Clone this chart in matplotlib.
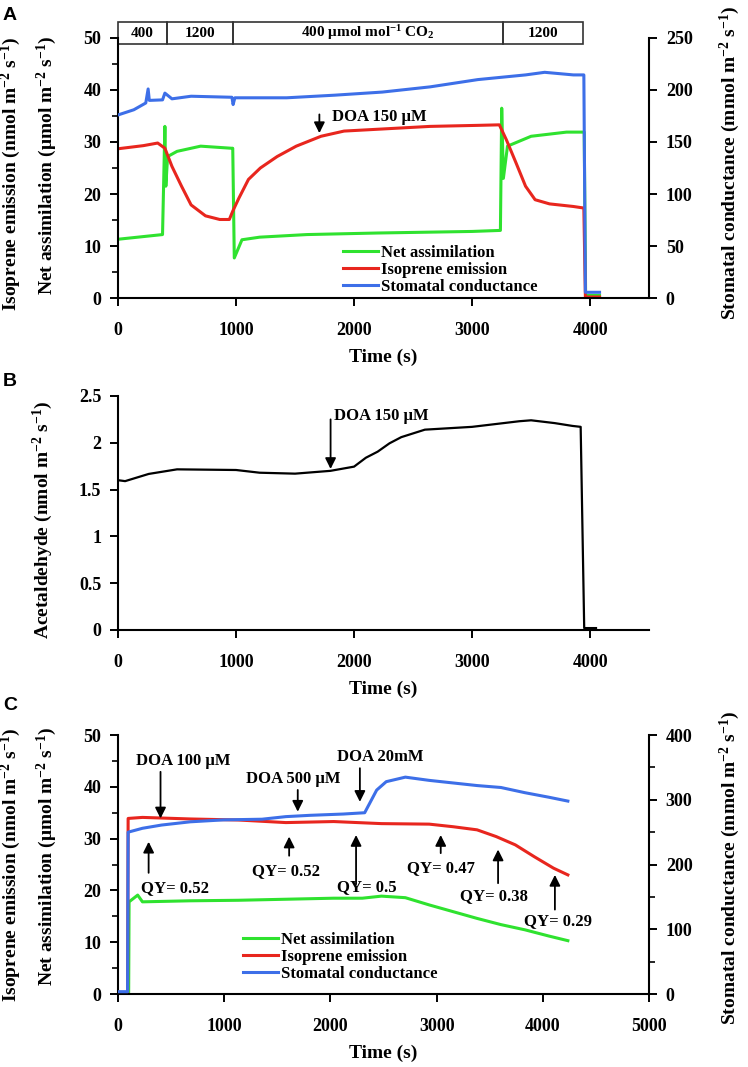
import matplotlib.pyplot as plt
from matplotlib.patches import Rectangle
from matplotlib.ticker import MultipleLocator

plt.rcParams['font.family'] = ['Liberation Serif', 'DejaVu Serif']
plt.rcParams['font.weight'] = 'bold'
plt.rcParams['mathtext.fontset'] = 'custom'
plt.rcParams['mathtext.rm'] = 'Liberation Serif:bold'
plt.rcParams['mathtext.it'] = 'Liberation Serif:bold:italic'
plt.rcParams['mathtext.bf'] = 'Liberation Serif:bold'

GREEN = '#2fe22f'
RED = '#e8261e'
BLUE = '#3d6fe8'

# ---- panel A: CO2 steps ----
a_net_t = [0, 377, 397, 405, 420, 500, 700, 960, 972, 985, 1050, 1200, 1600, 2200, 3000, 3240,
           3251, 3265, 3300, 3500, 3800, 3950, 3962, 4080]
a_net = [11.3, 12.2, 33.0, 21.5, 27.2, 28.2, 29.2, 28.8, 28.8, 7.7, 11.2, 11.7, 12.2, 12.5, 12.8, 13.0,
         36.5, 23.0, 29.2, 31.1, 31.9, 31.9, 0.5, 0.5]
a_iso_t = [0, 215, 336, 397, 457, 538, 619, 741, 862, 943, 972, 1024, 1105, 1206, 1348, 1510, 1720,
           1915, 2239, 2644, 3049, 3231, 3291, 3372, 3453, 3534, 3656, 3858, 3947, 3960, 4080]
a_iso = [28.7, 29.3, 29.8, 28.8, 25.3, 21.5, 17.9, 15.8, 15.1, 15.1, 16.7, 19.2, 22.8, 25.0, 27.2, 29.2, 31.1,
         32.1, 32.5, 33.0, 33.2, 33.3, 30.4, 26.0, 21.5, 18.9, 18.1, 17.6, 17.3, 0.2, 0.2]
a_gs_t = [0, 134, 235, 255, 265, 377, 397, 457, 619, 965, 975, 990, 1429, 1834, 2239, 2644, 3049,
          3453, 3615, 3858, 3947, 3960, 4080]
a_gs = [176, 181, 187.5, 201, 190, 190.5, 197, 191.5, 194, 193, 186, 192.5, 192.5, 195, 198, 203, 210,
        214.5, 217, 214.5, 214.5, 5.5, 5.5]
co2_edges = [0, 414, 972, 3263, 3944]
co2_labels = ['400', '1200', '400 μmol mol$^{-1}$ CO$_2$', '1200']

# ---- panel B: acetaldehyde ----
b_t = [0, 60, 260, 500, 1000, 1200, 1500, 1800, 2000, 2100, 2200, 2300, 2400, 2500, 2600, 2800,
       3000, 3200, 3400, 3500, 3700, 3850, 3920, 3950, 4050]
b_acet = [1.60, 1.59, 1.667, 1.716, 1.709, 1.68, 1.67, 1.70, 1.745, 1.84, 1.905, 1.994, 2.06, 2.10,
          2.14, 2.155, 2.17, 2.20, 2.23, 2.24, 2.21, 2.18, 2.17, 0.02, 0.02]
b_ticks = [0, 0.5, 1, 1.5, 2, 2.5]
b_ticklabels = ['0', '0.5', '1', '1.5', '2', '2.5']

# ---- panel C: DOA doses ----
c_gs_t = [0, 90, 95, 230, 410, 680, 995, 1355, 1580, 1805, 2120, 2322, 2435, 2525, 2705, 2930,
          3155, 3380, 3605, 3830, 4055, 4235]
c_gs = [3.6, 3.6, 250, 256, 261, 266, 269, 270, 274, 276, 278, 280, 315, 328, 335, 330,
        326, 322, 319, 311, 304, 298]
c_iso_t = [0, 90, 95, 230, 680, 1130, 1580, 2030, 2480, 2930, 3155, 3380, 3560, 3740, 3920, 4100, 4235]
c_iso = [0.3, 0.3, 33.9, 34.1, 33.8, 33.6, 33.1, 33.3, 32.9, 32.8, 32.3, 31.7, 30.4, 28.8, 26.5, 24.3, 23.0]
c_net_t = [0, 100, 104, 185, 230, 680, 1130, 1580, 2030, 2300, 2480, 2705, 2930, 3155, 3380, 3605,
           3830, 4055, 4235]
c_net = [0.3, 0.3, 17.8, 19.1, 17.8, 18.0, 18.1, 18.3, 18.5, 18.5, 18.9, 18.6, 17.2, 15.9, 14.6, 13.4,
         12.4, 11.2, 10.3]

c_doa_labels = ['DOA 100 μM', 'DOA 500 μM', 'DOA 20mM']
c_doa_t = [400, 1692, 2277]
c_doa_from = [42.9, 39.4, 43.6]
c_doa_to = [33.9, 35.2, 37.1]
c_doa_text_t = [612, 1647, 2466]
c_doa_text_y = [45.0, 41.6, 45.7]

c_qy_labels = ['QY= 0.52', 'QY= 0.52', 'QY= 0.5', 'QY= 0.47', 'QY= 0.38', 'QY= 0.29']
c_qy_t = [288, 1611, 2241, 3038, 3578, 4113]
c_qy_from = [23.4, 26.7, 21.2, 27.2, 21.4, 16.3]
c_qy_to = [29.4, 30.4, 30.7, 30.7, 27.9, 23.0]
c_qy_text_t = [535, 1580, 2345, 3042, 3537, 4145]
c_qy_text_y = [20.5, 23.7, 20.6, 24.3, 19.0, 14.1]

UNITS = ' (nmol m$^{-2}$ s$^{-1}$)'
TICK_FS = 13
LABEL_FS = 14


def style(ax, left=True):
    for s in ['top', 'right']:
        ax.spines[s].set_visible(False)
    ax.spines['left'].set_linewidth(1.5)
    ax.spines['bottom'].set_linewidth(1.5)
    ax.tick_params(axis='x', direction='out', length=6, width=1.4, pad=11, labelsize=TICK_FS, top=False)
    ax.tick_params(axis='y', which='major', direction='out', length=6, width=1.4, pad=6,
                   labelsize=TICK_FS, right=False)
    ax.tick_params(axis='y', which='minor', direction='out', length=4, width=1.2, right=False)


def style_right(ax2):
    for s in ['top', 'left', 'bottom']:
        ax2.spines[s].set_visible(False)
    ax2.spines['right'].set_linewidth(1.5)
    ax2.tick_params(axis='y', which='major', direction='out', length=6, width=1.4, pad=6, labelsize=TICK_FS)
    ax2.tick_params(axis='y', which='minor', direction='out', length=4, width=1.2)


def arrow(ax, t, y0, y1):
    ax.annotate('', xy=(t, y1), xytext=(t, y0),
                arrowprops=dict(arrowstyle='-|>', color='black', lw=1.3, mutation_scale=16,
                                shrinkA=0, shrinkB=0))


fig = plt.figure(figsize=(7.48, 10.67), dpi=100)
L, W = 0.1578, 0.710

# ---------------- A ----------------
ax = fig.add_axes([L, 0.7207, W, 0.2437])
ax2 = ax.twinx()
ax.plot(a_net_t, a_net, color=GREEN, lw=2.2, label='Net assimilation')
ax.plot(a_iso_t, a_iso, color=RED, lw=2.2, label='Isoprene emission')
ax2.plot(a_gs_t, a_gs, color=BLUE, lw=2.2, label='Stomatal conductance')
ax.set_xlim(0, 4500)
ax.set_ylim(0, 50)
ax2.set_ylim(0, 250)
ax.set_xticks(range(0, 4001, 1000))
ax.yaxis.set_major_locator(MultipleLocator(10))
ax.yaxis.set_minor_locator(MultipleLocator(5))
ax2.yaxis.set_major_locator(MultipleLocator(50))
style(ax)
style_right(ax2)
ax.set_xlabel('Time (s)', fontsize=LABEL_FS, fontweight='bold', labelpad=7)
for i, lab in enumerate(co2_labels):
    ax.add_patch(Rectangle((co2_edges[i], 48.8), co2_edges[i + 1] - co2_edges[i], 4.3,
                           fill=False, lw=1.2, edgecolor='#333333', clip_on=False))
    ax.text((co2_edges[i] + co2_edges[i + 1]) / 2, 50.95, lab, ha='center', va='center', fontsize=11)
arrow(ax, 1706, 35.3, 31.7)
ax.text(1816, 34.9, 'DOA 150 μM', ha='left', va='center', fontsize=12)
h1, l1 = ax.get_legend_handles_labels()
h2, l2 = ax2.get_legend_handles_labels()
ax2.legend(h1 + h2, l1 + l2, loc='upper left', bbox_to_anchor=(0.423, 0.203), frameon=False,
           fontsize=12, handlelength=2.1, handletextpad=0.2, labelspacing=0.05, borderpad=0,
           borderaxespad=0)
ax.text(-0.2015, 0.477, 'Isoprene emission' + UNITS, transform=ax.transAxes, rotation=90,
        ha='center', va='center', fontsize=LABEL_FS)
ax.text(-0.1337, 0.51, 'Net assimilation (μmol m$^{-2}$ s$^{-1}$)', transform=ax.transAxes,
        rotation=90, ha='center', va='center', fontsize=LABEL_FS)
ax.text(1.1516, 0.521, 'Stomatal conductance (mmol m$^{-2}$ s$^{-1}$)', transform=ax.transAxes,
        rotation=90, ha='center', va='center', fontsize=LABEL_FS)

# ---------------- B ----------------
bx = fig.add_axes([L, 0.4096, W, 0.2193])
bx.plot(b_t, b_acet, color='black', lw=1.6)
bx.set_xlim(0, 4500)
bx.set_ylim(0, 2.5)
bx.set_xticks(range(0, 4001, 1000))
bx.set_yticks(b_ticks)
bx.set_yticklabels(b_ticklabels)
style(bx)
bx.set_xlabel('Time (s)', fontsize=LABEL_FS, fontweight='bold', labelpad=7)
arrow(bx, 1801, 2.25, 1.72)
bx.text(1830, 2.29, 'DOA 150 μM', ha='left', va='center', fontsize=12)
bx.text(-0.141, 0.47, 'Acetaldehyde' + UNITS, transform=bx.transAxes, rotation=90,
        ha='center', va='center', fontsize=LABEL_FS)

# ---------------- C ----------------
cx = fig.add_axes([L, 0.0684, W, 0.2427])
cx2 = cx.twinx()
cx.plot(c_net_t, c_net, color=GREEN, lw=2.2, label='Net assimilation')
cx.plot(c_iso_t, c_iso, color=RED, lw=2.2, label='Isoprene emission')
cx2.plot(c_gs_t, c_gs, color=BLUE, lw=2.2, label='Stomatal conductance')
cx.set_xlim(0, 5000)
cx.set_ylim(0, 50)
cx2.set_ylim(0, 400)
cx.set_xticks(range(0, 5001, 1000))
cx.yaxis.set_major_locator(MultipleLocator(10))
cx.yaxis.set_minor_locator(MultipleLocator(5))
cx2.yaxis.set_major_locator(MultipleLocator(100))
cx2.yaxis.set_minor_locator(MultipleLocator(50))
style(cx)
style_right(cx2)
cx.set_xlabel('Time (s)', fontsize=LABEL_FS, fontweight='bold', labelpad=7)
for i, lab in enumerate(c_doa_labels):
    arrow(cx, c_doa_t[i], c_doa_from[i], c_doa_to[i])
    cx.text(c_doa_text_t[i], c_doa_text_y[i], lab, ha='center', va='center', fontsize=12)
for i, lab in enumerate(c_qy_labels):
    arrow(cx, c_qy_t[i], c_qy_from[i], c_qy_to[i])
    cx.text(c_qy_text_t[i], c_qy_text_y[i], lab, ha='center', va='center', fontsize=12)
h1, l1 = cx.get_legend_handles_labels()
h2, l2 = cx2.get_legend_handles_labels()
cx2.legend(h1 + h2, l1 + l2, loc='upper left', bbox_to_anchor=(0.235, 0.239), frameon=False,
           fontsize=12, handlelength=2.1, handletextpad=0.2, labelspacing=0.05, borderpad=0,
           borderaxespad=0)
cx.text(-0.2015, 0.50, 'Isoprene emission' + UNITS, transform=cx.transAxes, rotation=90,
        ha='center', va='center', fontsize=LABEL_FS)
cx.text(-0.1337, 0.533, 'Net assimilation (μmol m$^{-2}$ s$^{-1}$)', transform=cx.transAxes,
        rotation=90, ha='center', va='center', fontsize=LABEL_FS)
cx.text(1.1516, 0.486, 'Stomatal conductance (mmol m$^{-2}$ s$^{-1}$)', transform=cx.transAxes,
        rotation=90, ha='center', va='center', fontsize=LABEL_FS)

# panel letters
for letter, ytop in [('A', 7), ('B', 373), ('C', 697)]:
    fig.text(3 / 748, 1 - ytop / 1067, letter, ha='left', va='top', fontsize=14,
             fontfamily='Liberation Sans', fontweight='bold')

fig.savefig('out.png', dpi=100)
